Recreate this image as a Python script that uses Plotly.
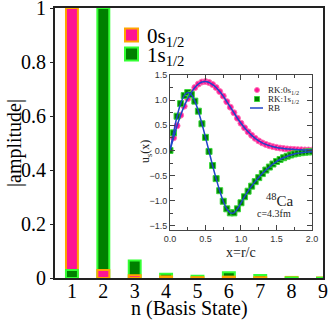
import numpy as np
import plotly.graph_objects as go

# bar chart: amplitude of each basis state
n_basis = [1, 2, 3, 4, 5, 6, 7, 8, 9]
amp_0s = [1.0, 0.03, 0.01, 0.006, 0.003, 0.005, 0.003, 0.004, 0.002]
amp_1s = [0.03, 1.0, 0.065, 0.016, 0.008, 0.021, 0.011, 0.002, 0.001]

# inset: radial wave functions u_s(x), x = r/c
x_r = [0.0, 0.05, 0.1, 0.15, 0.2, 0.25, 0.3, 0.35, 0.4, 0.45, 0.5,
       0.55, 0.6, 0.65, 0.7, 0.75, 0.8, 0.85, 0.9, 0.95, 1.0,
       1.05, 1.1, 1.15, 1.2, 1.25, 1.3, 1.35, 1.4, 1.45, 1.5,
       1.55, 1.6, 1.65, 1.7, 1.75, 1.8, 1.85, 1.9, 1.95, 2.0]
u_0s = [0.0, 0.25, 0.49, 0.70, 0.88, 1.03, 1.15, 1.25, 1.32, 1.36, 1.37,
        1.35, 1.31, 1.25, 1.17, 1.08, 0.97, 0.86, 0.75, 0.64, 0.54,
        0.45, 0.37, 0.30, 0.24, 0.19, 0.15, 0.12, 0.095, 0.075, 0.06,
        0.047, 0.037, 0.03, 0.024, 0.019, 0.015, 0.012, 0.01, 0.008, 0.006]
u_1s = [0.0, 0.35, 0.68, 0.93, 1.09, 1.15, 1.11, 0.98, 0.78, 0.53, 0.26,
        -0.02, -0.30, -0.56, -0.80, -1.01, -1.16, -1.24, -1.24, -1.16, -1.04,
        -0.92, -0.81, -0.71, -0.62, -0.54, -0.46, -0.39, -0.33, -0.27, -0.22,
        -0.18, -0.145, -0.115, -0.09, -0.07, -0.055, -0.045, -0.035, -0.03, -0.025]

PINK, ORANGE = '#ff1493', '#ffa500'
DGREEN, LGREEN = '#008000', '#33ff33'
BLUE = '#1f45c8'
SERIF = 'Liberation Serif, Times New Roman, Times, serif'
SANS = 'Liberation Sans, Arial, Helvetica, sans-serif'

# pixel -> paper helpers (plot area is 55..323 x 8..278)
def px(x):
    return (x - 55) / 268.0

def py(y):
    return (278 - y) / 270.0

a0 = np.array(amp_0s)
a1 = np.array(amp_1s)

fig = go.Figure()

# taller bar of each pair behind, shorter one in front
bar_sets = [
    (np.where(a0 >= a1, a0, None), PINK, ORANGE),
    (np.where(a1 > a0, a1, None), DGREEN, LGREEN),
    (np.where(a0 < a1, a0, None), PINK, ORANGE),
    (np.where(a1 <= a0, a1, None), DGREEN, LGREEN),
]
for vals, fill, edge in bar_sets:
    fig.add_trace(go.Bar(
        x=n_basis, y=vals, width=0.38,
        marker=dict(color=fill, line=dict(color=edge, width=2)),
        showlegend=False
    ))

# inset curves
fig.add_trace(go.Scatter(
    x=x_r, y=u_0s, mode='markers', xaxis='x2', yaxis='y2',
    marker=dict(symbol='circle', size=6, color=PINK, line=dict(color='#ff6fb5', width=1)),
    showlegend=False
))
fig.add_trace(go.Scatter(
    x=x_r, y=u_1s, mode='markers', xaxis='x2', yaxis='y2',
    marker=dict(symbol='square', size=6, color=DGREEN, line=dict(color='#3ad83a', width=1)),
    showlegend=False
))
for u in (u_0s, u_1s):
    fig.add_trace(go.Scatter(
        x=x_r, y=u, mode='lines', xaxis='x2', yaxis='y2',
        line=dict(color=BLUE, width=1.5, shape='spline'),
        showlegend=False
    ))

shapes = []
annotations = []

def label(x, y, text, size, color='#222', anchor='center', angle=0):
    annotations.append(dict(xref='paper', yref='paper', x=px(x), y=py(y),
                            text=text, showarrow=False, textangle=angle,
                            xanchor=anchor, yanchor='middle',
                            font=dict(family=SERIF, size=size, color=color)))

# main legend (drawn by hand)
for yc, fill, edge, lab in [(35, PINK, ORANGE, '0s<sub>1/2</sub>'),
                            (54, DGREEN, LGREEN, '1s<sub>1/2</sub>')]:
    shapes.append(dict(type='rect', xref='paper', yref='paper',
                       x0=px(125), x1=px(138), y0=py(yc - 6.5), y1=py(yc + 6.5),
                       fillcolor=fill, line=dict(color=edge, width=2)))
    label(145, yc + 2, lab, 21, 'black', 'left')

# inset legend
shapes.append(dict(type='circle', xref='paper', yref='paper',
                   x0=px(254.5), x1=px(259.5), y0=py(87.5), y1=py(92.5),
                   fillcolor=PINK, line=dict(color='#ff6fb5', width=1)))
shapes.append(dict(type='rect', xref='paper', yref='paper',
                   x0=px(254.5), x1=px(259.5), y0=py(96.5), y1=py(101.5),
                   fillcolor=DGREEN, line=dict(color='#3ad83a', width=1)))
shapes.append(dict(type='line', xref='paper', yref='paper',
                   x0=px(250), x1=px(263), y0=py(108), y1=py(108),
                   line=dict(color=BLUE, width=1.5)))
for yc, lab in [(90, 'RK:0s<sub>1/2</sub>'), (99, 'RK:1s<sub>1/2</sub>'), (108, 'RB')]:
    label(266, yc, lab, 9, '#222', 'left')

label(280, 200, '<sup>48</sup>Ca', 15)
label(274, 213, 'c=4.3fm', 10)

# axis titles
label(14, 143, '|amplitude|', 20, 'black', angle=-90)
label(189, 308, 'n (Basis State)', 20, 'black')
label(241, 252, 'x=r/c', 14)
label(146, 152, 'u<sub>s</sub>(x)', 12, angle=-90)

tickfont_main = dict(family=SERIF, size=20, color='black')
inset_font = dict(family=SANS, size=9, color='#333')

fig.update_layout(
    width=332, height=320,
    margin=dict(l=55, r=9, t=8, b=42),
    barmode='overlay',
    plot_bgcolor='white', paper_bgcolor='white',
    showlegend=False,
    shapes=shapes,
    annotations=annotations,
    xaxis=dict(
        range=[0.46, 9.0], tickvals=n_basis, tickfont=tickfont_main,
        showline=True, linecolor='#222', linewidth=2, mirror=True,
        showgrid=False, zeroline=False, ticks='', automargin=False,
        ticklabeloverflow='allow', ticklabelstandoff=-6
    ),
    yaxis=dict(
        range=[0, 1], tickvals=[0, 0.2, 0.4, 0.6, 0.8, 1],
        ticktext=['0', '0.2', '0.4', '0.6', '0.8', '1'], tickfont=tickfont_main,
        showline=True, linecolor='#222', linewidth=2, mirror=True,
        showgrid=False, zeroline=False, ticks='outside', ticklen=3, tickcolor='#222',
        automargin=False, ticklabeloverflow='allow'
    ),
    xaxis2=dict(
        domain=[0.429, 0.959], anchor='y2', range=[0, 2],
        tickvals=[0, 0.5, 1.0, 1.5, 2.0], tickformat='.1f', tickfont=inset_font,
        ticks='inside', ticklen=5, tickcolor='#444',
        minor=dict(dtick=0.25, ticks='inside', ticklen=3, tickcolor='#444'),
        showline=True, linecolor='#444', linewidth=1, mirror='allticks',
        showgrid=False, zeroline=False, automargin=False
    ),
    yaxis2=dict(
        domain=[0.178, 0.752], anchor='x2', range=[-1.58, 1.5],
        tickvals=[-1.5, -1.0, -0.5, 0.0, 0.5, 1.0, 1.5], tickformat='.1f', tickfont=inset_font,
        ticks='inside', ticklen=5, tickcolor='#444',
        minor=dict(dtick=0.25, ticks='inside', ticklen=3, tickcolor='#444'),
        showline=True, linecolor='#444', linewidth=1, mirror='allticks',
        showgrid=False, zeroline=False, automargin=False
    ),
)

# the page body has a default 8px margin; drop it so the figure sits at 0,0
fig.write_html("out.html", config={'displayModeBar': False},
               post_script="document.body.style.margin='0px';")
